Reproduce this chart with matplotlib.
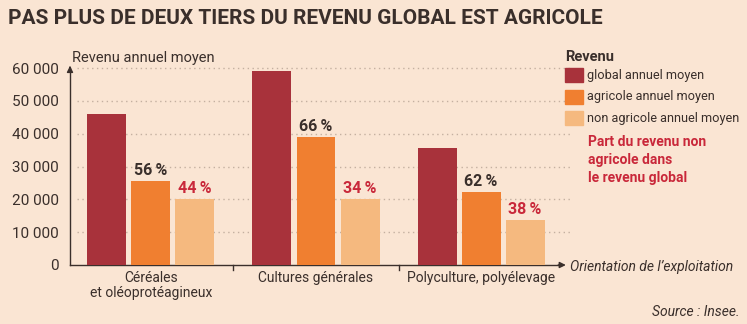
import matplotlib
matplotlib.use("Agg")
import matplotlib.pyplot as plt
import numpy as np
from matplotlib.patches import Rectangle

# données (Insee)
categories = ["Céréales\net oléoprotéagineux", "Cultures générales", "Polyculture, polyélevage"]
revenu_global = [46000, 59000, 35600]
revenu_agricole = [25600, 39000, 22200]
revenu_non_agricole = [20100, 20000, 13700]
part_agricole = [56, 66, 62]
part_non_agricole = [44, 34, 38]
yticks = [0, 10000, 20000, 30000, 40000, 50000, 60000]
legend_labels = ["global annuel moyen", "agricole annuel moyen", "non agricole annuel moyen"]

fond = "#FAE5D3"
rouge = "#A8323B"
orange = "#F07F30"
clair = "#F5B97F"
texte = "#3A2F2B"
rouge_txt = "#C9283A"

plt.rcParams["font.family"] = ["Roboto", "DejaVu Sans"]

fig = plt.figure(figsize=(7.47, 3.24), dpi=100, facecolor=fond)
ax = fig.add_axes([70 / 747, 59 / 324, 492 / 747, 197 / 324])
ax.set_facecolor(fond)

x = np.arange(len(categories))
w = 0.236
step = 0.267
ax.bar(x - step, revenu_global, w, color=rouge, zorder=3)
ax.bar(x, revenu_agricole, w, color=orange, zorder=3)
ax.bar(x + step, revenu_non_agricole, w, color=clair, zorder=3)

for i in range(len(categories)):
    ax.text(x[i], revenu_agricole[i] + 1000, f"{part_agricole[i]}\u2009%", ha="center", va="bottom",
            fontsize=11.5, fontweight="bold", color=texte, zorder=4)
    ax.text(x[i] + step, revenu_non_agricole[i] + 1000, f"{part_non_agricole[i]}\u2009%", ha="center",
            va="bottom", fontsize=11.5, fontweight="bold", color=rouge_txt, zorder=4)

ax.set_xlim(-0.49, 2.49)
ax.set_ylim(0, 60000)
ax.set_yticks(yticks)
ax.set_yticklabels([f"{v:,}".replace(",", " ") for v in yticks], fontsize=11, color=texte)
ax.tick_params(axis="y", length=0, pad=8)
ax.set_xticks(x)
ax.set_xticklabels(categories, fontsize=10, color=texte, linespacing=1.1)
ax.tick_params(axis="x", length=0, pad=4)
for xb in [0.5, 1.5]:
    ax.plot([xb, xb], [-1500, 0], color=texte, lw=1, clip_on=False, zorder=5)

for v in yticks[1:]:
    ax.plot([-0.45, 2.55], [v, v], color="#C4B0A0", lw=1, ls=(0, (1, 2.5)), clip_on=False, zorder=1)

for s in ["top", "right"]:
    ax.spines[s].set_visible(False)
ax.spines["left"].set_color(texte)
ax.spines["bottom"].set_color(texte)
ax.spines["left"].set_linewidth(1)
ax.spines["bottom"].set_linewidth(1)
ax.annotate("", xy=(-0.49, 61500), xytext=(-0.49, 59000),
            arrowprops=dict(arrowstyle="-|>", color=texte, lw=1, mutation_scale=9), annotation_clip=False)
ax.annotate("", xy=(2.53, 0), xytext=(2.45, 0),
            arrowprops=dict(arrowstyle="-|>", color=texte, lw=1, mutation_scale=9), annotation_clip=False)

fig.text(8 / 747, 1 - 19 / 324, "PAS PLUS DE DEUX TIERS DU REVENU GLOBAL EST AGRICOLE",
         fontsize=15, fontweight="bold", color=texte, va="center", ha="left")
fig.text(72 / 747, 1 - 58 / 324, "Revenu annuel moyen", fontsize=10.5, color=texte, va="center")
fig.text(570 / 747, 1 - 267 / 324, "Orientation de l’exploitation", fontsize=10, style="italic",
         color=texte, va="center")
fig.text(740 / 747, 1 - 312 / 324, "Source : Insee.", fontsize=10, style="italic", color=texte,
         va="center", ha="right")

# légende
fig.text(565 / 747, 1 - 57 / 324, "Revenu", fontsize=10.5, fontweight="bold", color=texte, va="center")
for j, (lab, col) in enumerate(zip(legend_labels, [rouge, orange, clair])):
    yc = 75 + j * 21.5
    fig.patches.append(Rectangle((565 / 747, 1 - (yc + 7) / 324), 18 / 747, 14 / 324,
                                 transform=fig.transFigure, color=col))
    fig.text(587 / 747, 1 - yc / 324, lab, fontsize=9.2, color=texte, va="center")
fig.text(588 / 747, 1 - 160 / 324, "Part du revenu non\nagricole dans\nle revenu global",
         fontsize=10, fontweight="bold", color=rouge_txt, va="center", linespacing=1.4)

fig.savefig("out.png", dpi=100, facecolor=fond)
